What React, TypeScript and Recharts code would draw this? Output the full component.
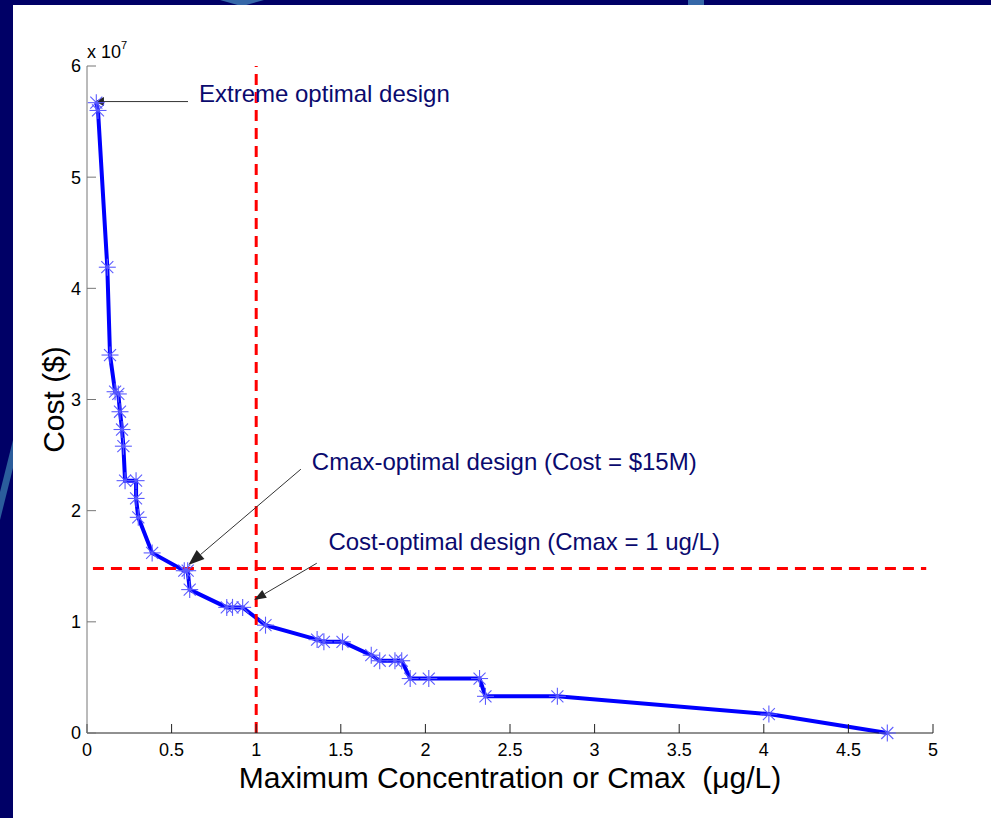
import React from 'react';
import { LineChart, Line, XAxis, YAxis, ReferenceLine, ReferenceDot } from 'recharts';

// Cmax (ug/L) vs cost ($) trade-off curve
const cmax = [
  0.055, 0.065, 0.12, 0.136, 0.166, 0.185, 0.195, 0.207, 0.215, 0.225, 0.29, 0.29, 0.303, 0.385,
  0.575, 0.595, 0.607, 0.826, 0.86, 0.92, 1.055, 1.36, 1.4, 1.51, 1.68, 1.73, 1.82, 1.86, 1.91,
  2.02, 2.32, 2.355, 2.78, 4.03, 4.73,
];
const cost = [
  5.67e7, 5.6e7, 4.19e7, 3.4e7, 3.07e7, 3.05e7, 2.89e7, 2.73e7, 2.58e7, 2.27e7, 2.27e7, 2.11e7,
  1.94e7, 1.62e7, 1.46e7, 1.46e7, 1.29e7, 1.13e7, 1.13e7, 1.13e7, 0.97e7, 0.84e7, 0.82e7, 0.82e7,
  0.7e7, 0.65e7, 0.65e7, 0.65e7, 0.49e7, 0.49e7, 0.49e7, 0.33e7, 0.33e7, 0.17e7, 0,
];
const xTicks = [0, 0.5, 1, 1.5, 2, 2.5, 3, 3.5, 4, 4.5, 5];
const yTicks = [0, 1e7, 2e7, 3e7, 4e7, 5e7, 6e7];

const cmaxLimit = 1; // ug/L
const costLimit = 1.48e7; // $

const data = cmax.map((c, i) => ({ cmax: c, cost: cost[i] }));

const FONT = '"Liberation Sans", Arial, sans-serif';
const NOTE_COLOR = '#0a0a6e';

const Star = (p: any) => {
  const { cx, cy } = p;
  if (cx == null || cy == null) return null;
  const r = 8.5;
  const d = r * 0.7071;
  return (
    <g stroke="#5c5cff" strokeWidth={1.1}>
      <line x1={cx - r} y1={cy} x2={cx + r} y2={cy} />
      <line x1={cx} y1={cy - r} x2={cx} y2={cy + r} />
      <line x1={cx - d} y1={cy - d} x2={cx + d} y2={cy + d} />
      <line x1={cx - d} y1={cy + d} x2={cx + d} y2={cy - d} />
    </g>
  );
};

const XTick = ({ x, y, payload }: any) => (
  <text x={x} y={y} dy="0.71em" textAnchor="middle" fontSize={18} fill="#000" fontFamily={FONT}>
    {payload.value}
  </text>
);

const YTick = ({ x, y, payload }: any) => (
  <text x={x} y={y} dy="0.36em" textAnchor="end" fontSize={18} fill="#000" fontFamily={FONT}>
    {payload.value / 1e7}
  </text>
);

// line with a filled head at (x2, y2)
const arrow = (len: number, half: number) => (p: any) => {
  const { x1, y1, x2, y2 } = p;
  const a = Math.atan2(y2 - y1, x2 - x1);
  const bx = x2 - len * Math.cos(a);
  const by = y2 - len * Math.sin(a);
  const nx = -Math.sin(a) * half;
  const ny = Math.cos(a) * half;
  return (
    <g>
      <line x1={x1} y1={y1} x2={bx} y2={by} stroke="#333" strokeWidth={1} />
      <polygon points={`${x2},${y2} ${bx + nx},${by + ny} ${bx - nx},${by - ny}`} fill="#222" />
    </g>
  );
};

const Note = ({ viewBox, text }: any) => (
  <text x={viewBox.x} y={viewBox.y} dy="0.36em" fill={NOTE_COLOR} fontSize={24} fontFamily={FONT}>
    {text}
  </text>
);

const Exponent = ({ viewBox }: any) => (
  <text x={viewBox.x} y={viewBox.y - 8} fontSize={18} fill="#000" fontFamily={FONT}>
    x 10
    <tspan dy={-9} fontSize={11}>7</tspan>
  </text>
);

export default function App() {
  return (
    <div style={{ position: 'absolute', left: 0, top: 0, width: 991, height: 818, background: '#000066', overflow: 'hidden' }}>
      <div style={{ position: 'absolute', left: 13, top: 5, width: 978, height: 813, background: '#fff' }} />
      <div style={{ position: 'absolute', left: 220, top: 0, width: 44, height: 5, background: '#3567a8', clipPath: 'polygon(0 0, 100% 0, 60% 100%, 40% 100%)' }} />
      <div style={{ position: 'absolute', left: 688, top: 0, width: 16, height: 5, background: '#3567a8' }} />
      <div style={{ position: 'absolute', left: 0, top: 440, width: 13, height: 80, background: '#2b5d9c', clipPath: 'polygon(100% 0, 100% 35%, 0 100%, 0 65%)' }} />
      <div style={{ position: 'absolute', left: 0, top: 0 }}>
        <LineChart
          width={991}
          height={818}
          data={data}
          margin={{ top: 66, right: 58, left: 27, bottom: 25 }}
          style={{ fontFamily: FONT }}
        >
          <XAxis
            dataKey="cmax"
            type="number"
            domain={[0, 5]}
            ticks={xTicks}
            height={60}
            stroke="#222"
            tickSize={-9}
            tickMargin={19}
            tick={<XTick />}
            label={{ value: 'Maximum Concentration or Cmax \u00A0(\u03BCg/L)', position: 'insideBottom', offset: 5, fontSize: 30, fill: '#000' }}
          />
          <XAxis xAxisId="top" orientation="top" dataKey="cmax" type="number" domain={[0, 5]} ticks={xTicks} height={0} stroke="#666" tickSize={-9} tick={false} />
          <YAxis
            type="number"
            domain={[0, 6e7]}
            ticks={yTicks}
            width={60}
            stroke="#777"
            tickSize={-9}
            tickMargin={15}
            tick={<YTick />}
            label={{ value: 'Cost ($)', angle: -90, position: 'insideLeft', offset: 26, fontSize: 30, fill: '#000', style: { textAnchor: 'middle' } }}
          />
          <YAxis yAxisId="right" orientation="right" type="number" domain={[0, 6e7]} ticks={yTicks} width={0} stroke="#222" tickSize={-9} tick={false} />

          <Line
            dataKey="cost"
            type="linear"
            stroke="#0000ff"
            strokeWidth={4}
            dot={(p: any) => <Star key={p.index} {...p} />}
            activeDot={false}
            isAnimationActive={false}
          />

          <ReferenceLine x={cmaxLimit} stroke="#ff0000" strokeWidth={3} strokeDasharray="11 7" />
          <ReferenceLine
            segment={[{ x: 0.035, y: costLimit }, { x: 4.96, y: costLimit }]}
            stroke="#ff0000"
            strokeWidth={3}
            strokeDasharray="11 7"
          />

          <ReferenceLine segment={[{ x: 0.597, y: 5.68e7 }, { x: 0.047, y: 5.68e7 }]} shape={arrow(9, 4.5)} />
          <ReferenceLine segment={[{ x: 1.264, y: 2.373e7 }, { x: 0.599, y: 1.512e7 }]} shape={arrow(16, 6)} />
          <ReferenceLine segment={[{ x: 1.358, y: 1.527e7 }, { x: 0.988, y: 1.197e7 }]} shape={arrow(12, 4.5)} />

          <ReferenceDot x={0.662} y={5.757e7} r={0} fill="none" stroke="none" label={<Note text="Extreme optimal design" />} />
          <ReferenceDot x={1.329} y={2.442e7} r={0} fill="none" stroke="none" label={<Note text="Cmax-optimal design (Cost = $15M)" />} />
          <ReferenceDot x={1.427} y={1.722e7} r={0} fill="none" stroke="none" label={<Note text="Cost-optimal design (Cmax = 1 ug/L)" />} />
          <ReferenceDot x={0} y={6e7} r={0} fill="none" stroke="none" ifOverflow="visible" label={<Exponent />} />
        </LineChart>
      </div>
    </div>
  );
}
